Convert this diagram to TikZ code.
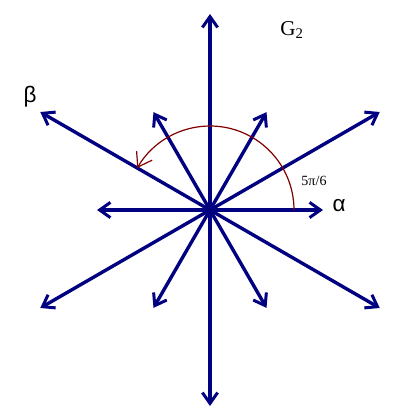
\documentclass[tikz,border=0pt]{standalone}
\usepackage{fontspec}
\setmainfont{Liberation Serif}
\newfontfamily\greekfont{Liberation Sans}
\usetikzlibrary{arrows.meta, positioning, calc}
\definecolor{rootblue}{RGB}{0,0,128}
\definecolor{arcred}{RGB}{128,0,0}

\begin{document}
\begin{tikzpicture}
    % Setup the styles
        \tikzset{root style/.style={draw=rootblue,
                                    line width=0.085cm,
                                    -{Straight Barb[length=0.27cm,width=0.38cm,line width=0.075cm]}},
                 angle style/.style={draw=arcred,
                                     line width=0.03cm,
                                     -{Straight Barb[length=0.33cm,width=0.45cm]}},
                 greek style/.style={font=\greekfont\fontsize{16}{18}\selectfont}}
        \useasboundingbox (-5.25,-5.25) rectangle (5.25,5.25);
        % Origin
        \coordinate (o) at (0,0);
        % Short roots
        \foreach \a in {0,60,...,300}
            \coordinate (s\a) at (\a:2.825);
        % Long roots
        \foreach \a in {30,90,...,330}
            \coordinate (l\a) at (\a:4.9);
        % Draw the roots
        \foreach \a in {0,60,...,300}
            \draw[root style] (o) -- (s\a);
        \foreach \a in {30,90,...,330}
            \draw[root style] (o) -- (l\a);
        % Angle between alpha and beta
        \draw[angle style] (2.1,0) arc[start angle=0, end angle=150, radius=2.1];
        % Labels
        \node[greek style] (alpha) at (3.23,0.12) {α};
        \node[greek style] (beta) at (-4.5,2.83) {β};
        \node[font=\fontsize{15}{17}\selectfont] (g2) at (2.05,4.5) {G\textsubscript{2}};
        \node[font=\fontsize{10}{12}\selectfont] (angle) at (2.6,0.72) {5π/6};
\end{tikzpicture}
\end{document}
